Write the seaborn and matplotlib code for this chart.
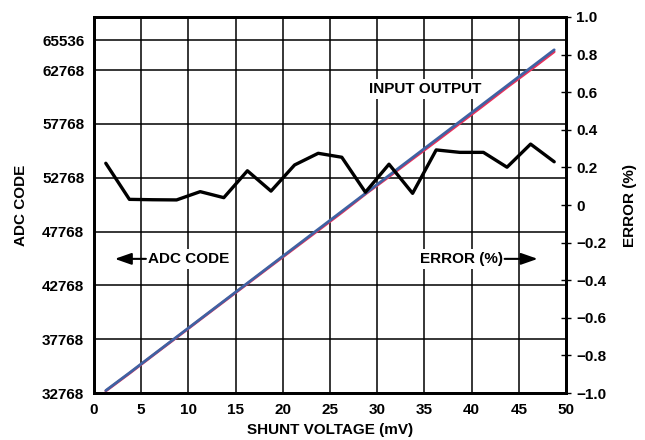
import matplotlib
matplotlib.use("Agg")
import matplotlib.pyplot as plt
import seaborn as sns
import pandas as pd

# ---- data ----
shunt_mv = [1.25, 3.75, 6.25, 8.75, 11.25, 13.75, 16.25, 18.75, 21.25, 23.75,
            26.25, 28.75, 31.25, 33.75, 36.25, 38.75, 41.25, 43.75, 46.25, 48.75]
adc_output = [33000, 34636, 36303, 37971, 39638, 41306, 42973, 44641, 46308, 47976,
              49643, 51311, 52978, 54646, 56313, 57981, 59648, 61316, 62983, 64651]
adc_input = [32960, 34590, 36270, 37930, 39600, 41260, 42920, 44580, 46230, 47880,
             49540, 51250, 52870, 54520, 56160, 57820, 59480, 61170, 62800, 64470]
error_pct = [0.222, 0.030, 0.028, 0.027, 0.071, 0.039, 0.182, 0.074, 0.213, 0.275,
             0.254, 0.068, 0.217, 0.062, 0.293, 0.280, 0.280, 0.201, 0.324, 0.230]

left_ticks = [32768, 37768, 42768, 47768, 52768, 57768, 62768, 65536]
right_ticks = [-1.0, -0.8, -0.6, -0.4, -0.2, 0, 0.2, 0.4, 0.6, 0.8, 1.0]
x_ticks = [0, 5, 10, 15, 20, 25, 30, 35, 40, 45, 50]

df = pd.DataFrame({"mv": shunt_mv, "out": adc_output, "inp": adc_input, "err": error_pct})

sns.set_style("white")
plt.rcParams["font.family"] = ["Liberation Sans", "DejaVu Sans"]
plt.rcParams["font.weight"] = "bold"
plt.rcParams["axes.unicode_minus"] = True
for k in ("text.color", "axes.labelcolor", "xtick.color", "ytick.color",
          "xtick.labelcolor", "ytick.labelcolor"):
    plt.rcParams[k] = "black"

fig = plt.figure(figsize=(6.45, 4.40), dpi=100)
ax = fig.add_axes([94 / 645, 47 / 440, 472 / 645, 376 / 440])
ax2 = ax.twinx()

RED = "#e8305a"
BLUE = "#3f62a3"
sns.lineplot(data=df, x="mv", y="inp", ax=ax, color=RED, lw=2.0, zorder=3)
sns.lineplot(data=df, x="mv", y="out", ax=ax, color=BLUE, lw=2.0, zorder=4)
sns.lineplot(data=df, x="mv", y="err", ax=ax2, color="black", lw=2.4, zorder=5)

ax.set_xlim(0, 50)
ax.set_ylim(32768, 67700)
ax2.set_ylim(-1.0, 1.0)

ax.set_xticks(x_ticks)
ax.set_xticklabels([str(t) for t in x_ticks], fontsize=11, fontweight="bold", color="black")
ax.set_yticks(left_ticks)
ax.set_yticklabels([str(t) for t in left_ticks], fontsize=11, fontweight="bold", color="black")
ax2.set_yticks(right_ticks)
ax2.set_yticklabels([("\u2212" if t < 0 else "") + f"{abs(t):.1f}" if t != 0 else "0"
                     for t in right_ticks], fontsize=11, fontweight="bold", color="black")

ax.grid(True, color="black", lw=1.1)
ax.set_axisbelow(True)
ax.tick_params(axis="both", length=0, pad=7)
ax2.tick_params(axis="y", direction="inout", length=7, width=1.0, color="black", pad=4)

for a in (ax, ax2):
    for s in a.spines.values():
        s.set_color("black")
        s.set_linewidth(2.0)

ax.set_xlabel("SHUNT VOLTAGE (mV)", fontsize=11, fontweight="bold", labelpad=4.5, color="black")
ax.set_ylabel("ADC CODE", fontsize=11, fontweight="bold", labelpad=10, color="black")
ax2.set_ylabel("ERROR (%)", fontsize=11, fontweight="bold", labelpad=12, color="black")

box = dict(facecolor="white", edgecolor="none", pad=2)
ax.text(29.1, 61000, "INPUT OUTPUT", fontsize=11, fontweight="bold", color="black",
        va="center", ha="left", bbox=box, zorder=2)
ax.text(5.7, 45230, "ADC CODE", fontsize=11, fontweight="bold", color="black",
        va="center", ha="left", bbox=box, zorder=2)
ax.text(43.3, 45230, "ERROR (%)", fontsize=11, fontweight="bold", color="black",
        va="center", ha="right", bbox=box, zorder=2)

arrow = dict(arrowstyle="-|>,head_length=1.0,head_width=0.35", color="black",
             lw=1.5, mutation_scale=10, shrinkA=0, shrinkB=0)
ax.annotate("", xy=(2.2, 45230), xytext=(5.5, 45230), arrowprops=arrow, zorder=6)
ax.annotate("", xy=(47.0, 45230), xytext=(43.5, 45230), arrowprops=arrow, zorder=6)

fig.savefig("out.png", dpi=100)
